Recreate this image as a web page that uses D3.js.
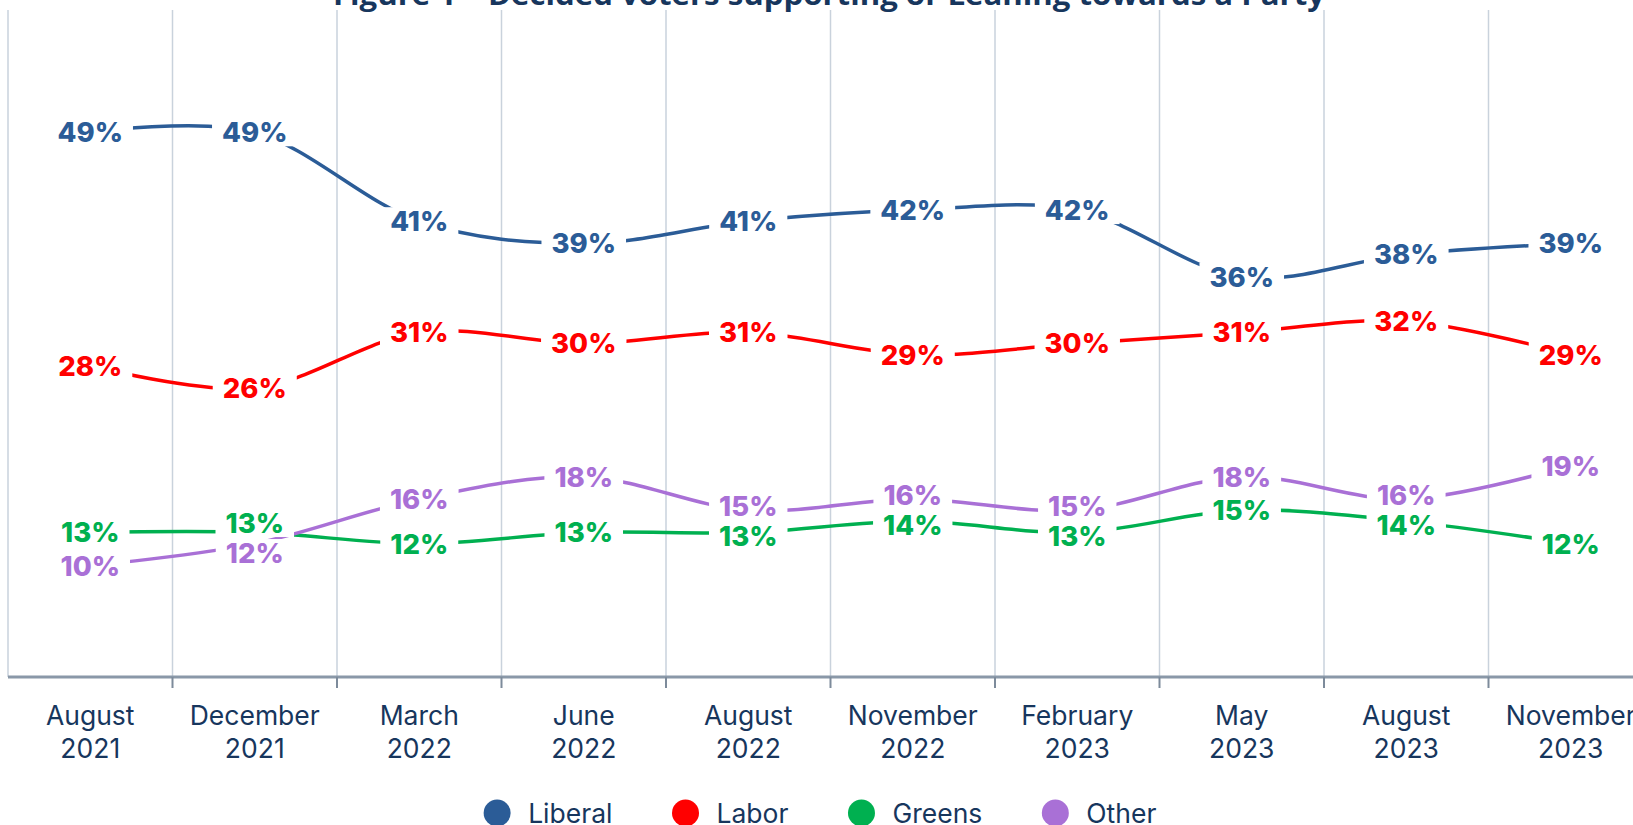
<!DOCTYPE html>
<html>
<head>
<meta charset="utf-8">
<script src="https://cdn.jsdelivr.net/npm/d3@7"></script>
<style>
  html, body { margin: 0; padding: 0; background: #fff; overflow: hidden; }
  svg { display: block; }
</style>
</head>
<body>
<svg id="chart" width="1633" height="825"></svg>
<script>
// ---- data ----
const categories = ["August 2021", "December 2021", "March 2022", "June 2022", "August 2022",
                    "November 2022", "February 2023", "May 2023", "August 2023", "November 2023"];
const seriesNames = ["Liberal", "Labor", "Greens", "Other"];
const liberal = [49, 49, 41, 39, 41, 42, 42, 36, 38, 39];
const labor   = [28, 26, 31, 30, 31, 29, 30, 31, 32, 29];
const greens  = [13, 13, 12, 13, 13, 14, 13, 15, 14, 12];
const other   = [10, 12, 16, 18, 15, 16, 15, 18, 16, 19];
const seriesColors = ["#2b5c97", "#ff0000", "#00b050", "#a970d6"];
const titleText = "Figure 1 \u2013 Decided voters supporting or Leaning towards a Party";

const seriesValues = [liberal, labor, greens, other];
const series = seriesNames.map((n, i) => ({ name: n, color: seriesColors[i], values: seriesValues[i] }));

// ---- layout ----
const svg = d3.select("#chart");
const W = 1633, H = 825;
const plotLeft = 8, bandW = 164.5;
const plotTop = 10, plotBottom = 677;
const navy = "#17365d";

const x = d3.scaleBand().domain(categories).range([plotLeft, plotLeft + bandW * categories.length]).padding(0);
const y = d3.scaleLinear().domain([0, 60]).range([plotBottom, plotTop]);
const cx = c => x(c) + x.bandwidth() / 2;

// title (clipped at top, as in reference)
svg.append("text")
  .attr("x", 829).attr("y", 5)
  .attr("text-anchor", "middle")
  .attr("font-family", "'Open Sans', sans-serif")
  .attr("font-weight", 700)
  .attr("font-size", 29)
  .attr("fill", navy)
  .attr("textLength", 992)
  .attr("lengthAdjust", "spacingAndGlyphs")
  .text(titleText);

// gridlines at band edges
svg.append("g").selectAll("line").data(categories).join("line")
  .attr("x1", d => x(d)).attr("x2", d => x(d))
  .attr("y1", plotTop).attr("y2", plotBottom)
  .attr("stroke", "#c9d2dc").attr("stroke-width", 1.5);

// x axis labels via d3 axis
const axis = d3.axisBottom(x).tickSize(0).tickSizeOuter(0).tickFormat("");
const gAxis = svg.append("g").attr("transform", `translate(0,${plotBottom})`).call(axis);
gAxis.select(".domain").remove();
gAxis.selectAll(".tick").each(function(d) {
  const parts = d.split(" ");
  const t = d3.select(this).append("text")
    .attr("fill", navy)
    .attr("font-family", "Inter, sans-serif")
    .attr("font-size", 26.5)
    .attr("text-anchor", "middle");
  t.append("tspan").attr("x", 0).attr("y", 48).text(parts[0]);
  t.append("tspan").attr("x", 0).attr("y", 81).text(parts[1]);
});

// axis line and edge ticks
svg.append("line")
  .attr("x1", plotLeft).attr("x2", W)
  .attr("y1", plotBottom).attr("y2", plotBottom)
  .attr("stroke", "#8a98a8").attr("stroke-width", 3);
svg.append("g").selectAll("line").data(categories.slice(1)).join("line")
  .attr("x1", d => x(d)).attr("x2", d => x(d))
  .attr("y1", plotBottom).attr("y2", plotBottom + 11)
  .attr("stroke", "#7d8b9b").attr("stroke-width", 2);

// lines
const line = d3.line()
  .x((d, i) => cx(categories[i]))
  .y(d => y(d))
  .curve(d3.curveCardinal.tension(0));

svg.append("g").selectAll("path").data(series).join("path")
  .attr("d", s => line(s.values))
  .attr("fill", "none")
  .attr("stroke", s => s.color)
  .attr("stroke-width", 3.5);

// labels with simple collision avoidance per category
const minGap = 30;
const labels = [];
categories.forEach((c, i) => {
  const items = series.map(s => ({ s, v: s.values[i], c, ly: y(s.values[i]) }))
    .sort((a, b) => a.ly - b.ly);
  for (let k = 1; k < items.length; k++) {
    const a = items[k - 1], b = items[k];
    const gap = b.ly - a.ly;
    if (gap < minGap) {
      const need = (minGap - gap) / 2;
      a.ly -= need; b.ly += need;
    }
  }
  labels.push(...items);
});

const gLab = svg.append("g");
const lab = gLab.selectAll("g").data(labels).join("g")
  .attr("transform", d => `translate(${cx(d.c)},${d.ly})`);
const rects = lab.append("rect").attr("fill", "#fff");
const texts = lab.append("text")
  .attr("text-anchor", "middle")
  .attr("dy", "0.36em")
  .attr("font-family", "Inter, sans-serif")
  .attr("font-weight", 800)
  .attr("font-size", 27.5)
  .attr("fill", d => d.s.color)
  .text(d => d.v + "%");
texts.each(function(d) {
  const w = this.getComputedTextLength();
  d3.select(this.parentNode).select("rect")
    .attr("x", -w / 2 - 10).attr("y", -14)
    .attr("width", w + 20).attr("height", 28);
});

// legend
const legend = svg.append("g");
const items = legend.selectAll("g").data(series).join("g");
items.append("circle").attr("r", 13.5).attr("cx", 0).attr("cy", 813).attr("fill", d => d.color);
items.append("text")
  .attr("x", 31).attr("y", 813).attr("dy", "0.36em")
  .attr("font-family", "Inter, sans-serif")
  .attr("font-size", 26.5)
  .attr("fill", navy)
  .text(d => d.name);
let pos = 0;
const posArr = [];
items.each(function() {
  const tw = d3.select(this).select("text").node().getComputedTextLength();
  posArr.push(pos);
  pos += 31 + tw + 73;
});
const totalW = pos - 73 + 13.5;
const startX = 820 - totalW / 2 + 13.5;
items.attr("transform", (d, i) => `translate(${startX + posArr[i]},0)`);
</script>
</body>
</html>
